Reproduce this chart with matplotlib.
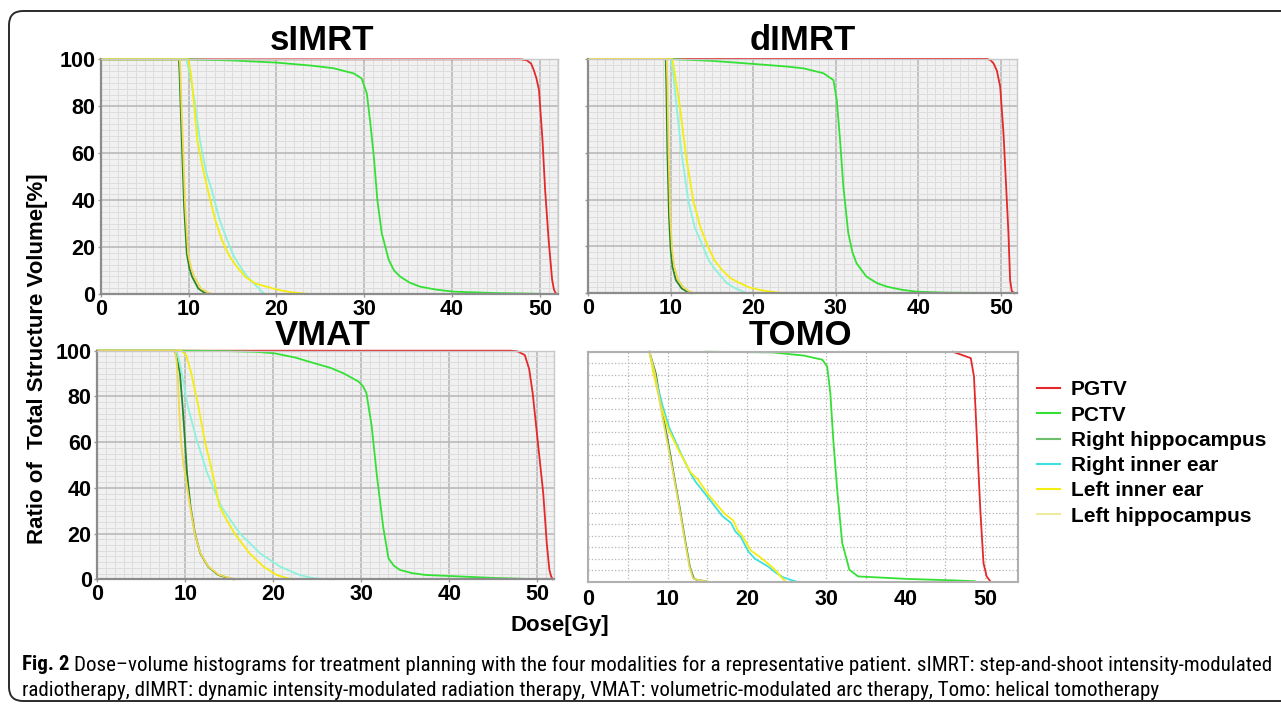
import matplotlib
matplotlib.use('Agg')
import matplotlib.pyplot as plt
from matplotlib.ticker import MultipleLocator, NullFormatter
from matplotlib.lines import Line2D
from matplotlib.patches import FancyBboxPatch
from matplotlib.font_manager import FontProperties

W, H = 1281, 706

structures = ['PGTV', 'PCTV', 'Right hippocampus', 'Right inner ear',
              'Left inner ear', 'Left hippocampus']
x_ticks = [0, 10, 20, 30, 40, 50]
y_ticks = [0, 20, 40, 60, 80, 100]

# ---- sIMRT ----
simrt_pgtv_dose = [0, 47.8, 48.5, 49.0, 49.3, 49.6, 49.9, 50.3, 50.6, 51.0, 51.4, 51.6, 51.8, 52.0]
simrt_pgtv_vol = [100, 100, 99.6, 98.2, 95.5, 92, 87, 65.6, 44.3, 23, 6, 2, 0.3, 0]
simrt_pctv_dose = [0, 10, 15, 20, 24, 26.5, 28.8, 29.7, 30.3, 30.7, 31.1, 31.5, 32.0, 32.8, 33.4, 34.1,
                   35.2, 36.4, 38.3, 40.2, 45, 50]
simrt_pctv_vol = [100, 100, 99.5, 98.6, 97.3, 96.2, 94, 91.9, 85.5, 72.7, 58.5, 40, 25.9, 14.5, 10, 7.4,
                  4.8, 3.1, 1.8, 1.0, 0.4, 0.1]
simrt_rhip_dose = [0, 8.9, 8.98, 9.1, 9.23, 9.5, 9.8, 10.1, 10.4, 11.1, 11.7, 12.3]
simrt_rhip_vol = [100, 100, 94, 80, 65.6, 37, 17.3, 11, 7.4, 2.4, 0.8, 0]
simrt_rear_dose = [0, 9.75, 10.2, 10.7, 11.3, 12.0, 12.65, 13.5, 14.4, 15.1, 15.9, 16.8, 17.8, 18.3, 18.7]
simrt_rear_vol = [100, 100, 93, 82, 65.6, 52, 44.3, 32, 23, 16.5, 11.6, 6.8, 3.1, 1.2, 0]
simrt_lear_dose = [0, 10.0, 10.3, 10.6, 11.0, 11.6, 12.2, 13.0, 13.8, 14.6, 15.5, 16.5, 17.6, 18.9, 20.5,
                   22.0, 23.9]
simrt_lear_vol = [100, 100, 93, 82, 65.6, 54, 44.3, 32, 23, 16.5, 11.6, 7.2, 4.5, 3.1, 1.5, 0.6, 0]
simrt_lhip_dose = [0, 9.0, 9.08, 9.2, 9.35, 9.62, 9.95, 10.3, 10.65, 11.4, 12.1, 12.7]
simrt_lhip_vol = [100, 100, 94, 80, 65.6, 37, 17.3, 11, 7.4, 2.4, 0.8, 0]

# ---- dIMRT ----
dimrt_pgtv_dose = [0, 48.3, 48.7, 49.1, 49.5, 49.9, 50.3, 50.6, 50.9, 51.1, 51.3, 51.6]
dimrt_pgtv_vol = [100, 100, 99.6, 98.1, 95, 88.2, 68.3, 47, 25.6, 5.7, 1, 0]
dimrt_pctv_dose = [0, 9.9, 15, 20, 24, 26.1, 28.5, 29.7, 30.1, 30.5, 30.9, 31.5, 32.0, 32.5, 33.7, 35,
                   36.2, 38, 39.8, 43, 49.5]
dimrt_pctv_vol = [100, 100, 99.2, 97.9, 96.8, 96, 93.9, 91, 82.5, 65.4, 45.5, 25.6, 17.5, 12.8, 7.1, 4.3,
                  2.8, 1.5, 0.7, 0.3, 0.1]
dimrt_rhip_dose = [0, 9.38, 9.45, 9.58, 9.78, 9.98, 10.2, 10.6, 11.3, 12.0, 12.5]
dimrt_rhip_vol = [100, 100, 90, 61, 32.7, 18.5, 11.4, 5.7, 2.1, 0.6, 0]
dimrt_rear_dose = [0, 9.98, 10.3, 10.7, 11.3, 12.1, 12.9, 13.9, 14.6, 15.4, 16.8, 17.8, 18.8, 19.2]
dimrt_rear_vol = [100, 100, 93, 79.7, 59.7, 39.8, 28, 19.9, 14, 10, 4.3, 2.2, 0.7, 0]
dimrt_lear_dose = [0, 10.2, 10.5, 11.1, 11.8, 12.7, 13.6, 14.5, 15.3, 16.2, 17.2, 18.4, 19.5, 20.8, 22.5, 24.0]
dimrt_lear_vol = [100, 100, 93, 79.7, 59.7, 39.8, 28, 19.9, 14, 10, 6.5, 4.3, 2.5, 1.4, 0.5, 0]
dimrt_lhip_dose = [0, 9.5, 9.58, 9.72, 9.92, 10.15, 10.4, 10.85, 11.6, 12.3, 12.9]
dimrt_lhip_vol = [100, 100, 90, 61, 33, 18.8, 11.6, 5.9, 2.3, 0.7, 0]

# ---- VMAT ----
vmat_pgtv_dose = [0, 47.0, 47.8, 48.6, 49.1, 49.5, 50.1, 50.7, 51.1, 51.4, 51.6, 51.8]
vmat_pgtv_vol = [100, 100, 99.7, 98.1, 92, 81.4, 59.5, 37.6, 15.7, 4.1, 1.2, 0]
vmat_pctv_dose = [0, 10, 15, 18, 20.1, 22.5, 24.7, 26.5, 28.0, 29.7, 30.2, 30.6, 31.2, 31.8, 32.5, 33.1,
                  33.7, 34.4, 35.8, 37.3, 41.5, 45, 48.6]
vmat_pctv_vol = [100, 100, 99.8, 99.5, 98.9, 97, 94.5, 92.5, 90.1, 86.5, 84.5, 81.4, 66.8, 44.9, 23, 9.2,
                 6, 4.1, 2.7, 1.9, 1.2, 0.6, 0.2]
vmat_rhip_dose = [0, 8.83, 9.1, 9.4, 9.7, 9.96, 10.2, 10.6, 11.1, 11.7, 12.6, 13.75, 15.1, 15.5]
vmat_rhip_vol = [100, 100, 96, 90, 75.5, 61, 46.4, 31.8, 20.1, 11.4, 5.5, 1.9, 0.3, 0]
vmat_rear_dose = [0, 9.0, 9.3, 9.6, 10.3, 11.3, 12.5, 14.1, 16.2, 18.5, 20.8, 23.0, 24.5, 25.5, 26.8]
vmat_rear_vol = [100, 100, 96, 90, 75.5, 61, 46.4, 31.8, 20.1, 11.4, 5.5, 1.9, 0.5, 0.2, 0]
vmat_lear_dose = [0, 9.6, 10.1, 10.7, 11.5, 12.2, 13.1, 13.9, 14.7, 15.6, 17.3, 18.9, 20.4, 21.5, 22.3]
vmat_lear_vol = [100, 100, 98, 90, 75.5, 61, 46.4, 31.8, 26, 20.1, 11.4, 5.5, 1.9, 0.6, 0]
vmat_lhip_dose = [0, 8.85, 9.0, 9.13, 9.3, 9.5, 9.8, 10.15, 10.5, 11.05, 11.7, 12.6, 13.8, 15.2, 16.2]
vmat_lhip_vol = [100, 100, 96, 90, 75, 61, 50, 42, 33, 20.5, 11.6, 5.7, 2.0, 0.4, 0]

# ---- TOMO ----
tomo_pgtv_dose = [45.9, 47.0, 48.2, 48.6, 49.0, 49.4, 49.8, 50.2, 50.7]
tomo_pgtv_vol = [100, 98.7, 97.2, 89.3, 60.3, 31.3, 8.1, 2.3, 0]
tomo_pctv_dose = [14.7, 23.2, 27.2, 29.5, 30.1, 30.5, 30.9, 31.4, 32.0, 32.9, 34.0, 40.2, 45.9, 48.7]
tomo_pctv_vol = [100, 99.7, 98.3, 96.5, 93.6, 82, 60.3, 38.6, 16.8, 5.2, 2.3, 1.2, 0.6, 0.2]
tomo_rhip_dose = [7.7, 8.5, 9.2, 10.0, 10.75, 11.5, 12.2, 12.8, 13.3, 13.8, 14.8]
tomo_rhip_vol = [100, 90.6, 76, 61.6, 47.1, 32.6, 18.1, 6.5, 1.4, 0.6, 0.3]
tomo_rear_dose = [7.7, 8.3, 9.4, 10.2, 11.5, 12.9, 13.5, 15.0, 16.9, 18.0, 18.5, 19.2, 20.2, 21.0, 22.7,
                  23.6, 24.5, 25.5, 26.3]
tomo_rear_vol = [100, 90.6, 76, 67, 57, 47, 43.5, 37, 28.5, 25.5, 22, 19.5, 13, 10, 6.5, 4, 2, 0.8, 0]
tomo_lear_dose = [7.7, 8.2, 9.2, 10.0, 11.4, 12.9, 13.8, 15.2, 17.2, 18.3, 18.8, 19.4, 20.5, 21.6, 22.9,
                  23.7, 24.3, 24.9]
tomo_lear_vol = [100, 90.6, 76, 67, 57, 47.5, 44.5, 37.5, 29.5, 26.5, 22.5, 20, 13.5, 10.8, 7.2, 4.5, 2, 0]
tomo_lhip_dose = [7.7, 8.4, 9.1, 9.9, 10.7, 11.45, 12.15, 12.75, 13.2, 13.9, 15.0]
tomo_lhip_vol = [100, 90.6, 76, 61.6, 47.1, 32.6, 18.1, 6.5, 1.4, 0.6, 0.2]

panel_data = {
    'sIMRT': [(simrt_pgtv_dose, simrt_pgtv_vol), (simrt_pctv_dose, simrt_pctv_vol),
              (simrt_rhip_dose, simrt_rhip_vol), (simrt_rear_dose, simrt_rear_vol),
              (simrt_lear_dose, simrt_lear_vol), (simrt_lhip_dose, simrt_lhip_vol)],
    'dIMRT': [(dimrt_pgtv_dose, dimrt_pgtv_vol), (dimrt_pctv_dose, dimrt_pctv_vol),
              (dimrt_rhip_dose, dimrt_rhip_vol), (dimrt_rear_dose, dimrt_rear_vol),
              (dimrt_lear_dose, dimrt_lear_vol), (dimrt_lhip_dose, dimrt_lhip_vol)],
    'VMAT': [(vmat_pgtv_dose, vmat_pgtv_vol), (vmat_pctv_dose, vmat_pctv_vol),
             (vmat_rhip_dose, vmat_rhip_vol), (vmat_rear_dose, vmat_rear_vol),
             (vmat_lear_dose, vmat_lear_vol), (vmat_lhip_dose, vmat_lhip_vol)],
    'TOMO': [(tomo_pgtv_dose, tomo_pgtv_vol), (tomo_pctv_dose, tomo_pctv_vol),
             (tomo_rhip_dose, tomo_rhip_vol), (tomo_rear_dose, tomo_rear_vol),
             (tomo_lear_dose, tomo_lear_vol), (tomo_lhip_dose, tomo_lhip_vol)],
}

line_colors = ['#e5282a', '#35e035', '#23862a', '#8cf2dc', '#f5ec10', '#f0d850']
tomo_colors = ['#e5282a', '#35e035', '#23862a', '#3ee0e0', '#f5ec10', '#e8dc60']
legend_colors = ['#e5282a', '#35e035', '#6cc06c', '#3ee0e0', '#f5ec10', '#eeeaa0']

bold = dict(family='Liberation Sans', weight='bold')


def px_rect(x0, y0, x1, y1):
    return [x0 / W, 1 - y1 / H, (x1 - x0) / W, (y1 - y0) / H]


fig = plt.figure(figsize=(W / 100, H / 100), dpi=100)
fig.patch.set_facecolor('white')

# rounded outer frame
bg = fig.add_axes([0, 0, 1, 1], zorder=-5)
bg.set_xlim(0, W)
bg.set_ylim(H, 0)
bg.axis('off')
bg.add_patch(FancyBboxPatch((9, 11), W + 60, 690, boxstyle='round,pad=0,rounding_size=14',
                            fc='none', ec='#2b2b2b', lw=1.4, clip_on=False))

# title, rect (px), xlim, y labels shown, title pos, style
panels = [
    ('sIMRT', (100.7, 59.3, 558.3, 294), 52.1, True, (322, 40), 'grid'),
    ('dIMRT', (588.3, 59, 1016.7, 293.3), 51.9, False, (803, 40), 'grid'),
    ('VMAT', (97.3, 350.7, 553.8, 579.3), 51.9, True, (323, 335.5), 'grid'),
    ('TOMO', (588.3, 351.7, 1017.6, 581.7), 54.1, False, (800, 335.5), 'dots'),
]

for name, r, xmax, ylab, tpos, style in panels:
    ax = fig.add_axes(px_rect(*r))
    colors = tomo_colors if style == 'dots' else line_colors
    for (d, v), c in zip(panel_data[name], colors):
        ax.plot(d, v, color=c, lw=1.3, clip_on=False, solid_joinstyle='round')
    ax.set_xlim(0, xmax)
    ax.set_ylim(0, 100)
    ax.set_xticks(x_ticks)
    ax.set_yticks(y_ticks)
    ax.set_axisbelow(True)
    if style == 'grid':
        ax.set_facecolor('#f1f1f1')
        ax.xaxis.set_minor_locator(MultipleLocator(1))
        ax.yaxis.set_minor_locator(MultipleLocator(2.5))
        ax.grid(which='minor', color='#dddddd', lw=0.7)
        ax.grid(which='major', color='#bdbdbd', lw=1.3)
        for s in ['top', 'right']:
            ax.spines[s].set_color('#c8c8c8')
            ax.spines[s].set_linewidth(1.0)
        for s in ['left', 'bottom']:
            ax.spines[s].set_color('#8c8c8c')
            ax.spines[s].set_linewidth(1.6)
        ax.tick_params(which='major', length=2.5, width=1, color='#9a9a9a', pad=1.5)
        ax.tick_params(axis='x', pad=0.8)
    else:
        ax.set_facecolor('white')
        ax.xaxis.set_minor_locator(MultipleLocator(5))
        ax.yaxis.set_minor_locator(MultipleLocator(5))
        ax.grid(which='both', color='#b5b5b5', lw=0.9, ls=':')
        for s in ax.spines.values():
            s.set_color('#b0b0b0')
            s.set_linewidth(1.5)
        ax.tick_params(which='major', length=0, pad=5)
        ax.tick_params(axis='y', labelleft=False)
    ax.tick_params(which='minor', length=0)
    if not ylab:
        ax.yaxis.set_major_formatter(NullFormatter())
    for lab in ax.get_xticklabels() + ax.get_yticklabels():
        lab.set_fontfamily('Liberation Sans')
        lab.set_fontweight('bold')
        lab.set_fontsize(15.5)
    fig.text(tpos[0] / W, 1 - tpos[1] / H, name, ha='center', va='center', fontsize=25, **bold)

fig.text(37.5 / W, 1 - 359 / H, 'Ratio of  Total Structure Volume[%]', rotation=90,
         ha='center', va='center', fontsize=16, **bold)
fig.text(560 / W, 1 - 625 / H, 'Dose[Gy]', ha='center', va='center', fontsize=16, **bold)

handles = [Line2D([], [], color=c, lw=1.5) for c in legend_colors]
fig.legend(handles, structures, loc='upper left', bbox_to_anchor=(1029 / W, 1 - 372 / H),
           frameon=False, handlelength=1.1, handletextpad=0.5, labelspacing=0.3,
           borderaxespad=0, prop=dict(family='Liberation Sans', weight='bold', size=15))

# caption: pick the narrowest installed sans family, then fit the first line to its width
cap1 = ('Dose\u2013volume histograms for treatment planning with the four modalities for a '
        'representative patient. sIMRT: step-and-shoot intensity-modulated')
cap2 = ('radiotherapy, dIMRT: dynamic intensity-modulated radiation therapy, VMAT: '
        'volumetric-modulated arc therapy, Tomo: helical tomotherapy')
renderer = fig.canvas.get_renderer()
candidates = [FontProperties(family='Liberation Sans Narrow', size=13),
              FontProperties(family='DejaVu Sans Condensed', size=13),
              FontProperties(family='DejaVu Sans', stretch='condensed', size=13),
              FontProperties(family='Roboto Condensed', size=13),
              FontProperties(family='Liberation Sans', size=13)]
best, best_w = None, None
for fp in candidates:
    t = fig.text(0, 0, cap1, fontproperties=fp)
    w = t.get_window_extent(renderer).width
    t.remove()
    if best_w is None or w < best_w:
        best, best_w = fp, w

size = 13
t_fig = fig.text(22 / W, 1 - 665 / H, 'Fig. 2', ha='left', va='center', fontproperties=best.copy())
t_fig.set_fontweight('bold')
t1 = fig.text(0, 1 - 665 / H, cap1, ha='left', va='center', fontproperties=best.copy())
w_fig = t_fig.get_window_extent(renderer).width
w1 = t1.get_window_extent(renderer).width
size = size * (1268 - 22 - 5) / (w_fig + w1)
t_fig.set_fontsize(size)
t1.set_fontsize(size)
w_fig = t_fig.get_window_extent(renderer).width
t1.set_x((22 + w_fig + 5) / W)
t2 = fig.text(22 / W, 1 - 690 / H, cap2, ha='left', va='center', fontproperties=best.copy())
t2.set_fontsize(size)

fig.savefig('out.png', dpi=100)
